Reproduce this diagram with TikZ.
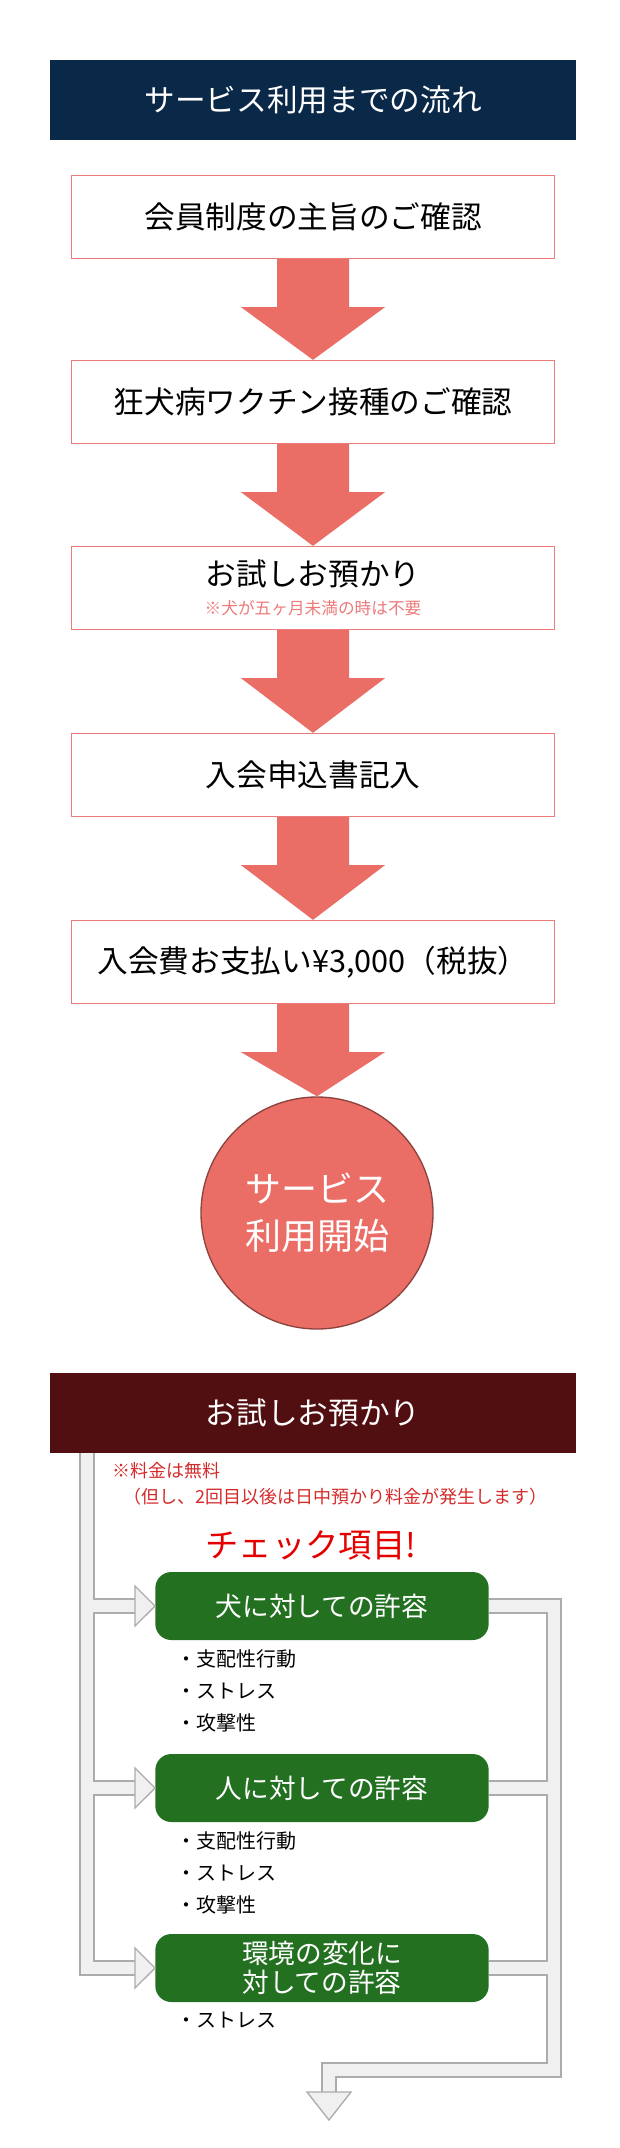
\documentclass[tikz,border=0pt]{standalone}
\usepackage{fontspec}
\newfontfamily\jp{Noto Sans CJK JP}
\usetikzlibrary{positioning,calc}
\definecolor{navyhead}{HTML}{0A2848}
\definecolor{winehead}{HTML}{520F12}
\definecolor{pinkline}{HTML}{EC7B7B}
\definecolor{salmon}{HTML}{EA6E66}
\definecolor{leafgreen}{HTML}{237021}
\definecolor{notered}{HTML}{D42A2A}

\tikzset{
    header/.style={fill=#1, text=white, minimum width=394pt, minimum height=60pt, font=\jp\fontsize{23}{26}\selectfont},
    stepbox/.style={draw=pinkline, line width=1.2pt, fill=white, minimum width=362pt, minimum height=62pt, inner sep=2pt, font=\jp\fontsize{23}{26}\selectfont, align=center},
    checkbox/.style={fill=leafgreen, text=white, rounded corners=12pt, minimum width=250pt, minimum height=51pt, inner sep=2pt, font=\jp\fontsize{20}{23}\selectfont, align=center},
    bullets/.style={font=\jp\fontsize{15}{24}\selectfont, align=left, anchor=north west},
    pipeout/.style={line width=12pt, draw=gray!65, line join=miter},
    pipein/.style={line width=9.5pt, draw=gray!12, line join=miter},
    pipehead/.style={fill=gray!12, draw=gray!65, line width=1pt}
}

\newcommand{\flowarrow}[2]{%
    \fill[salmon] ($(#1.south)+(-27pt,0)$) -- ($(#1.south)+(27pt,0)$) -- ($(#1.south)+(27pt,-36pt)$)
        -- ($(#1.south)+(54pt,-36pt)$) -- (#2.north) -- ($(#1.south)+(-54pt,-36pt)$)
        -- ($(#1.south)+(-27pt,-36pt)$) -- cycle;
}

\begin{document}
\begin{tikzpicture}[x=0.75pt, y=-0.75pt]
    \useasboundingbox (0,0) rectangle (620,2148);

    % first section
    \node[header=navyhead] (flow title) at (313,100) {サービス利用までの流れ};

    \node[stepbox] (rule check) at (313,217) {会員制度の主旨のご確認};
    \node[stepbox] (rabies check) at (313,402) {狂犬病ワクチン接種のご確認};
    \node[stepbox] (trial stay) at (313,588) {お試しお預かり\\[-4pt]{\color{pinkline}\fontsize{12.5}{14}\selectfont ※犬が五ヶ月未満の時は不要}};
    \node[stepbox] (application) at (313,775) {入会申込書記入};
    \node[stepbox] (entry fee) at (313,962) {入会費お支払い¥3,000（税抜）};
    \node[circle, fill=salmon, draw=salmon!60!black, line width=1pt, minimum size=174pt,
        text=white, align=center, font=\jp\fontsize{27}{35}\selectfont] (service start) at (317,1213) {サービス\\利用開始};

    \flowarrow{rule check}{rabies check}
    \flowarrow{rabies check}{trial stay}
    \flowarrow{trial stay}{application}
    \flowarrow{application}{entry fee}
    \flowarrow{entry fee}{service start}

    % second section
    \node[header=winehead] (trial title) at (313,1413) {お試しお預かり};

    \node[anchor=north west, text=notered, align=left, font=\jp\fontsize{13.5}{19.5}\selectfont] (fee note) at (108,1458)
        {※料金は無料\\\hspace*{0.6em}（但し、2回目以後は日中預かり料金が発生します）};
    \node[text=red!90!black, font=\jp\fontsize{25}{28}\selectfont] (check title) at (311,1545) {チェック項目!};

    \node[checkbox] (dog check) at (322,1606) {犬に対しての許容};
    \node[checkbox] (human check) at (322,1788) {人に対しての許容};
    \node[checkbox, font=\jp\fontsize{20}{22}\selectfont] (env check) at (322,1968) {環境の変化に\\対しての許容};

    \node[bullets] (dog list) at (172,1645) {・支配性行動\\・ストレス\\・攻撃性};
    \node[bullets] (human list) at (172,1827) {・支配性行動\\・ストレス\\・攻撃性};
    \node[bullets] (env list) at (172,2007) {・ストレス};

    \coordinate (trunk top) at (87,1453);
    \coordinate (trunk end) at (87,1968);
    \coordinate (exit bend) at (554,2070);
    \coordinate (exit tip) at (329,2120);

    \foreach \layer in {pipeout,pipein}{
        \draw[\layer] (trunk top) -- (trunk end) -- (140,1968);
        \draw[\layer] (87,1606) -- (140,1606);
        \draw[\layer] (87,1788) -- (140,1788);
        \draw[\layer] (dog check.east) -- (554,1606) -- (exit bend) -- (329,2070) -- (329,2094);
        \draw[\layer] (human check.east) -- (554,1788);
        \draw[\layer] (env check.east) -- (554,1968);
    }
    \foreach \y in {1606,1788,1968}{
        \filldraw[pipehead] (135,\y-20) -- (dog check.west |- 0,\y) -- (135,\y+20) -- cycle;
    }
    \filldraw[pipehead] (307,2092) -- (351,2092) -- (exit tip) -- cycle;
\end{tikzpicture}
\end{document}
